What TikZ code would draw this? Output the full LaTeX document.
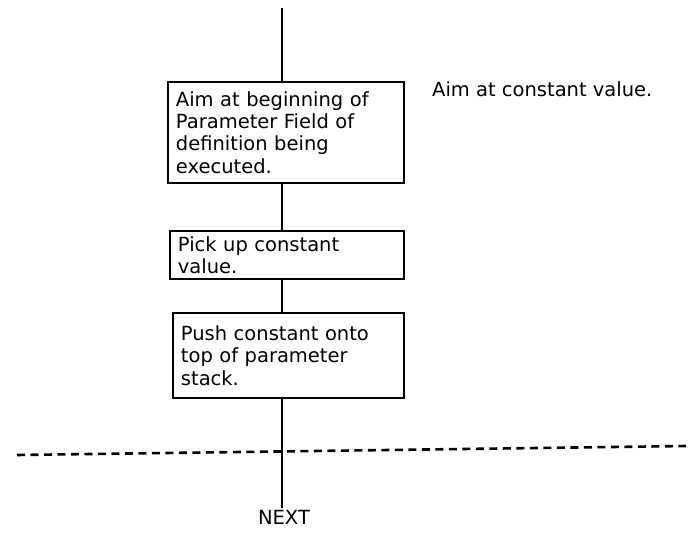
\documentclass[tikz,border=0pt]{standalone}
\usepackage{fontspec}
\setmainfont{DejaVu Sans}
\begin{document}
\begin{tikzpicture}[x=1pt,y=-1pt,
  stepbox/.style={draw, line width=1.9pt, anchor=north west, align=left,
    inner xsep=8pt, inner ysep=0pt, font=\fontsize{19.5}{22.3}\selectfont},
  conn/.style={line width=2.7pt},
  lbl/.style={font=\fontsize{19.5}{22}\selectfont}]
\useasboundingbox (0,0) rectangle (689,535);
\coordinate (top) at (282,8);
\node[stepbox, text width=220pt, minimum height=101pt] (b1) at (167,81)
  {Aim at beginning of\\Parameter Field of\\definition being\\executed.};
\node[stepbox, text width=218pt, minimum height=48pt] (b2) at (169,230)
  {Pick up constant\\value.};
\node[stepbox, text width=215pt, minimum height=85pt] (b3) at (172,312)
  {Push constant onto\\top of parameter\\stack.};
\node[lbl, anchor=west, inner sep=0pt] (note) at (432,89) {Aim at constant value.};
\node[lbl, anchor=north, inner sep=2pt] (next) at (284,508) {NEXT};
\draw[conn] (top) -- (top |- b1.north);
\draw[conn] (b1.south -| top) -- (b2.north -| top);
\draw[conn] (b2.south -| top) -- (b3.north -| top);
\draw[conn] (b3.south -| top) -- (next.north -| top);
\coordinate (dl) at (17,455);
\coordinate (dr) at (686,446);
\draw[line width=2.6pt, dash pattern=on 8pt off 5.5pt] (dl) -- (dr);
\end{tikzpicture}
\end{document}
